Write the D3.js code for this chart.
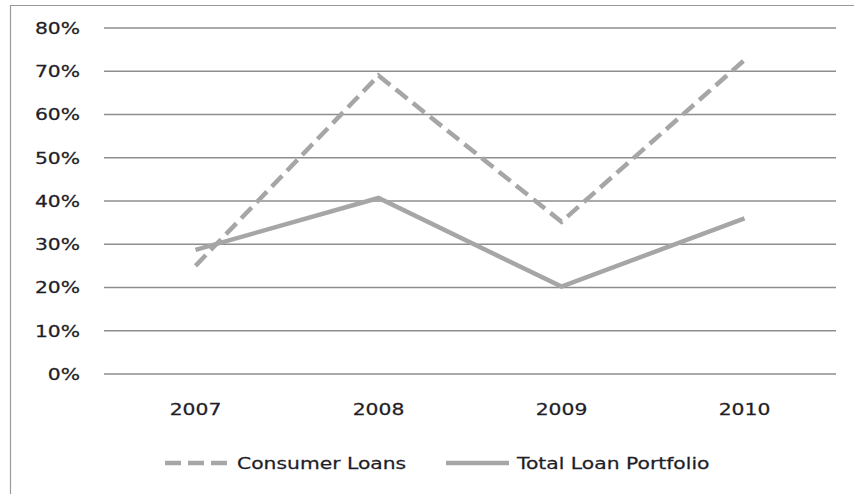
<!DOCTYPE html>
<html>
<head>
<meta charset="utf-8">
<script src="https://cdn.jsdelivr.net/npm/d3@7"></script>
<style>
  html, body { margin: 0; padding: 0; background: #fff; }
  svg { display: block; }
  text { font-family: "DejaVu Sans", Verdana, sans-serif; font-size: 16px; fill: #1e1e28; stroke: #1e1e28; stroke-width: 0.25px; }
</style>
</head>
<body>
<svg id="chart" width="854" height="494"></svg>
<script>
// Loan growth by year
const years = ["2007", "2008", "2009", "2010"];
const consumerLoans = [0.25, 0.69, 0.352, 0.726];
const totalLoanPortfolio = [0.287, 0.407, 0.202, 0.36];
const yTicks = [0, 0.1, 0.2, 0.3, 0.4, 0.5, 0.6, 0.7, 0.8];
const seriesNames = ["Consumer Loans", "Total Loan Portfolio"];

const W = 854, H = 494;
const plot = { left: 104, right: 836, top: 28, bottom: 374 };
const TEXT_STRETCH = 1.27;
const lineColor = "#a6a6a6";
const gridColor = "#8e8e8e";

const svg = d3.select("#chart");

const x = d3.scaleBand().domain(years).range([plot.left, plot.right]);
const y = d3.scaleLinear().domain([0, 0.8]).range([plot.bottom, plot.top]);
const cx = d => x(d) + x.bandwidth() / 2;

// chart frame (only left and top edges fall inside the view)
svg.append("path")
  .attr("d", `M10.5,${H} L10.5,5.5 L${W},5.5`)
  .attr("fill", "none")
  .attr("stroke", "#9a9a9a")
  .attr("stroke-width", 1.2);

// horizontal gridlines
svg.append("g").selectAll("line").data(yTicks).join("line")
  .attr("x1", plot.left).attr("x2", plot.right)
  .attr("y1", d => y(d)).attr("y2", d => y(d))
  .attr("stroke", gridColor).attr("stroke-width", 1.4);

// horizontally stretched text helper
function label(g, tx, ty, str, anchor) {
  const t = g.append("g").attr("transform", `translate(${tx},${ty}) scale(${TEXT_STRETCH},1)`);
  t.append("text").attr("text-anchor", anchor).attr("dy", "0.36em").text(str);
}

// y axis labels
const yAxis = svg.append("g");
const pct = d3.format(".0%");
yTicks.forEach(v => label(yAxis, 80, y(v), pct(v), "end"));

// x axis labels
const xAxis = svg.append("g");
years.forEach(yr => label(xAxis, cx(yr), 409, yr, "middle"));

// series lines
const line = d3.line()
  .x((d, i) => cx(years[i]))
  .y(d => y(d));

svg.append("path")
  .datum(totalLoanPortfolio)
  .attr("d", line)
  .attr("fill", "none")
  .attr("stroke", lineColor)
  .attr("stroke-width", 4.5)
  .attr("stroke-linejoin", "miter");

svg.append("path")
  .datum(consumerLoans)
  .attr("d", line)
  .attr("fill", "none")
  .attr("stroke", lineColor)
  .attr("stroke-width", 4.5)
  .attr("stroke-dasharray", "15,7")
  .attr("stroke-linejoin", "miter");

// legend
const legend = svg.append("g");
const legY = 463;
legend.append("line")
  .attr("x1", 165).attr("x2", 227).attr("y1", legY).attr("y2", legY)
  .attr("stroke", lineColor).attr("stroke-width", 4.5)
  .attr("stroke-dasharray", "16,7");
label(legend, 237, legY, seriesNames[0], "start");
legend.append("line")
  .attr("x1", 446).attr("x2", 509).attr("y1", legY).attr("y2", legY)
  .attr("stroke", lineColor).attr("stroke-width", 4.5);
label(legend, 517, legY, seriesNames[1], "start");
</script>
</body>
</html>
